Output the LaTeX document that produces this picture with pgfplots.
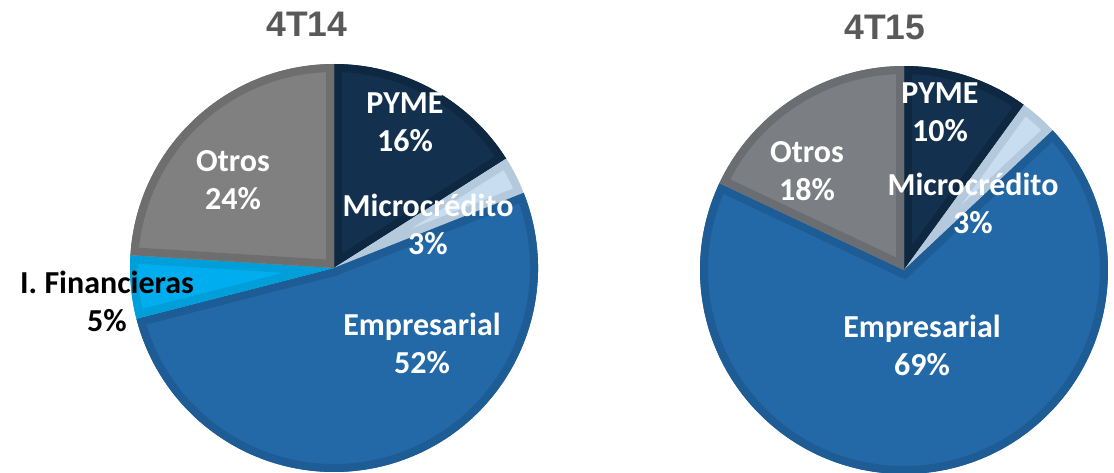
\documentclass[border=0pt]{standalone}
\usepackage{pgfplots}
\usepackage{pgfplotstable}
\pgfplotsset{compat=1.18}
\usepackage{fontspec}
\setmainfont{Carlito}
\newfontfamily\titlefont{Liberation Sans}

\definecolor{pyme}{HTML}{13314F}
\definecolor{pymeE}{HTML}{0E2842}
\definecolor{micro}{HTML}{C9DDF1}
\definecolor{microE}{HTML}{B5C9DC}
\definecolor{emp}{HTML}{2369A8}
\definecolor{empE}{HTML}{1E5C95}
\definecolor{ifin}{HTML}{00AEEF}
\definecolor{ifinE}{HTML}{009FDA}
\definecolor{otros}{HTML}{808080}
\definecolor{otrosE}{HTML}{6E6E6E}
\definecolor{otrosB}{HTML}{7B7E82}
\definecolor{otrosBE}{HTML}{6A6D71}
\definecolor{titlegray}{HTML}{595959}

\tikzset{lbl/.style={font=\fontsize{32}{38}\selectfont\bfseries, align=center, text=white}}

% 4T14
\pgfplotstableread{
label value fill edge
PYME 16 pyme pymeE
Microcredito 3 micro microE
Empresarial 52 emp empE
IFinancieras 5 ifin ifinE
Otros 24 otros otrosE
}\dataA
% 4T15
\pgfplotstableread{
label value fill edge
PYME 10 pyme pymeE
Microcredito 3 micro microE
Empresarial 69 emp empE
Otros 18 otrosB otrosBE
}\dataB

\newcommand\computepie[2]{%
  \pgfplotstablegetrowsof{#1}%
  \pgfmathtruncatemacro\N{\pgfplotsretval-1}%
  \xdef\curang{90}%
  \foreach \i in {0,...,\N}{%
    \pgfplotstablegetelem{\i}{value}\of{#1}\let\v\pgfplotsretval
    \pgfmathsetmacro\e{\curang-3.6*\v}%
    \expandafter\xdef\csname #2s\i\endcsname{\curang}%
    \expandafter\xdef\csname #2e\i\endcsname{\e}%
    \pgfplotstablegetelem{\i}{fill}\of{#1}%
    \expandafter\xdef\csname #2f\i\endcsname{\pgfplotsretval}%
    \pgfplotstablegetelem{\i}{edge}\of{#1}%
    \expandafter\xdef\csname #2d\i\endcsname{\pgfplotsretval}%
    \xdef\curang{\e}%
  }%
}
\computepie{\dataA}{A}
\computepie{\dataB}{B}

% #1 prefix, #2 index, #3 cx, #4 cy, #5 radius
\newcommand\slice[5]{%
  \edef\temp{%
    \noexpand\fill[\csname #1f#2\endcsname] (axis cs:#3,#4) -- ++(\csname #1s#2\endcsname:#5pt)
      arc[start angle=\csname #1s#2\endcsname, end angle=\csname #1e#2\endcsname, radius=#5pt] -- cycle;
    \noexpand\begin{scope}
    \noexpand\clip (axis cs:#3,#4) -- ++(\csname #1s#2\endcsname:#5pt)
      arc[start angle=\csname #1s#2\endcsname, end angle=\csname #1e#2\endcsname, radius=#5pt] -- cycle;
    \noexpand\draw[\csname #1d#2\endcsname, line width=16pt, line join=miter] (axis cs:#3,#4) -- ++(\csname #1s#2\endcsname:#5pt)
      arc[start angle=\csname #1s#2\endcsname, end angle=\csname #1e#2\endcsname, radius=#5pt] -- cycle;
    \noexpand\end{scope}
  }\temp
}

\begin{document}
\begin{tikzpicture}
\begin{axis}[
  at={(0,0)}, anchor=south west,
  width=1114pt, height=472pt, scale only axis,
  xmin=0, xmax=1114, ymin=0, ymax=472,
  hide axis, clip=false,
]
\pgfplotsinvokeforeach{0,...,4}{\slice{A}{#1}{334}{204}{204}}
\pgfplotsinvokeforeach{0,...,3}{\slice{B}{#1}{904}{202}{204}}

\node[font=\titlefont\fontsize{35.5}{40}\selectfont\bfseries, text=titlegray] at (axis cs:307,448) {4T14};
\node[font=\titlefont\fontsize{35.5}{40}\selectfont\bfseries, text=titlegray] at (axis cs:885,445) {4T15};

\node[lbl] at (axis cs:405,349.5) {PYME\\16\%};
\node[lbl] at (axis cs:233,292) {Otros\\24\%};
\node[lbl] at (axis cs:428,248) {Microcrédito\\3\%};
\node[lbl] at (axis cs:422,129) {Empresarial\\52\%};
\node[lbl, text=black] at (axis cs:107,171) {I. Financieras\\5\%};

\node[lbl] at (axis cs:940,360) {PYME\\10\%};
\node[lbl] at (axis cs:807,301) {Otros\\18\%};
\node[lbl] at (axis cs:973,269) {Microcrédito\\3\%};
\node[lbl] at (axis cs:922,126.5) {Empresarial\\69\%};
\end{axis}
\pgfresetboundingbox
\useasboundingbox (0,0) rectangle (1114pt,472pt);
\end{tikzpicture}
\end{document}
